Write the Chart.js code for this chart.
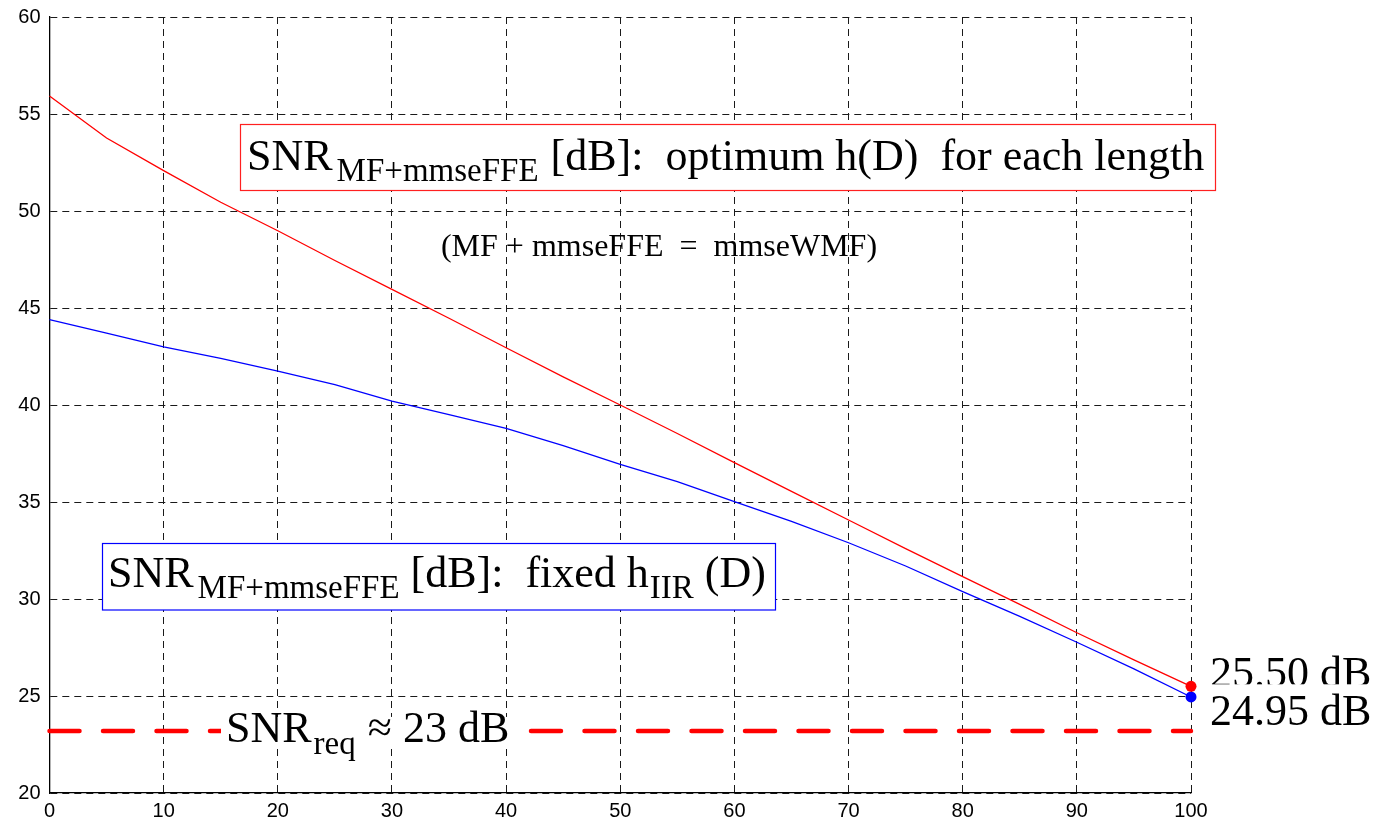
<!DOCTYPE html>
<html>
<head>
<meta charset="utf-8">
<script src="https://cdn.jsdelivr.net/npm/chart.js@4/dist/chart.umd.min.js"></script>
<style>
  html, body { margin: 0; padding: 0; background: #ffffff; }
  #wrap { width: 1376px; height: 822px; position: relative; }
</style>
</head>
<body>
<div id="wrap"><canvas id="snrChart"></canvas></div>
<script>
// Filter length (x) and SNR in dB for the two equalizer designs
const filterLengths = [0, 5, 10, 15, 20, 25, 30, 35, 40, 45, 50, 55, 60, 65, 70, 75, 80, 85, 90, 95, 100];
const snrOptimumH = [55.93, 53.76, 52.08, 50.45, 48.98, 47.45, 45.96, 44.47, 42.95, 41.45, 40.0, 38.53, 37.03, 35.55, 34.07, 32.6, 31.15, 29.72, 28.26, 26.86, 25.50];
const snrFixedHIIR = [44.4, 43.7, 43.0, 42.4, 41.75, 41.05, 40.2, 39.5, 38.8, 37.9, 36.94, 36.05, 35.02, 34.0, 32.9, 31.7, 30.38, 29.1, 27.77, 26.4, 24.95];
const snrRequired = 23.2;
const xTicks = [0, 10, 20, 30, 40, 50, 60, 70, 80, 90, 100];
const yTicks = [20, 25, 30, 35, 40, 45, 50, 55, 60];

const SERIF = '"Liberation Serif", "Times New Roman", serif';
const SANS = '"Liberation Sans", Arial, sans-serif';

const toPoints = (ys) => filterLengths.map((x, i) => ({ x: x, y: ys[i] }));
const lastIndex = filterLengths.length - 1;
const endMarker = (ctx) => (ctx.dataIndex === lastIndex ? 5.5 : 0);

// Draws a run of text pieces (normal / subscript) left to right
function drawRun(ctx, x, y, parts) {
  for (const p of parts) {
    ctx.font = p.font;
    ctx.fillText(p.text, x, y + (p.dy || 0));
    x += ctx.measureText(p.text).width + (p.gap || 0);
  }
  return x;
}

const annotations = {
  id: 'annotations',
  afterDatasetsDraw(chart) {
    const ctx = chart.ctx;
    const xs = chart.scales.x, ys = chart.scales.y;
    const big = '44px ' + SERIF;
    const sub = '33px ' + SERIF;
    const mid = '32px ' + SERIF;
    ctx.save();
    ctx.textBaseline = 'alphabetic';
    ctx.textAlign = 'left';

    // Optimum h(D) caption box
    ctx.fillStyle = '#ffffff';
    ctx.fillRect(240.5, 124.5, 975, 66);
    ctx.strokeStyle = '#ff2020';
    ctx.lineWidth = 1.2;
    ctx.strokeRect(240.5, 124.5, 975, 66);
    ctx.fillStyle = '#000000';
    drawRun(ctx, 247, 170, [
      { text: 'SNR', font: big, gap: 4 },
      { text: 'MF+mmseFFE', font: sub, dy: 11, gap: 12 },
      { text: '[dB]:  optimum h(D)  for each length', font: big }
    ]);

    // Equivalence note
    ctx.font = mid;
    ctx.textAlign = 'center';
    ctx.fillText('(MF + mmseFFE  =  mmseWMF)', 659, 256);
    ctx.textAlign = 'left';

    // Fixed h_IIR caption box
    ctx.fillStyle = '#ffffff';
    ctx.fillRect(102.5, 543.5, 673, 66.5);
    ctx.strokeStyle = '#0000ff';
    ctx.lineWidth = 1.2;
    ctx.strokeRect(102.5, 543.5, 673, 66.5);
    ctx.fillStyle = '#000000';
    drawRun(ctx, 108, 587, [
      { text: 'SNR', font: big, gap: 4 },
      { text: 'MF+mmseFFE', font: sub, dy: 11, gap: 11 },
      { text: '[dB]:  fixed h', font: big, gap: 1 },
      { text: 'IIR', font: sub, dy: 11, gap: 0 },
      { text: ' (D)', font: big }
    ]);

    // Required SNR label over the threshold line
    const yReq = ys.getPixelForValue(snrRequired);
    ctx.fillStyle = '#ffffff';
    ctx.fillRect(221, yReq - 14, 295, 30);
    ctx.fillStyle = '#000000';
    drawRun(ctx, 226, yReq + 11, [
      { text: 'SNR', font: big, gap: 2 },
      { text: 'req', font: sub, dy: 12, gap: 12 },
      { text: '\u2248 23 dB', font: big }
    ]);

    // End values at the longest filter
    const xEnd = xs.getPixelForValue(filterLengths[lastIndex]);
    const yRed = ys.getPixelForValue(snrOptimumH[lastIndex]);
    const yBlue = ys.getPixelForValue(snrFixedHIIR[lastIndex]);
    ctx.font = big;
    ctx.fillText(snrOptimumH[lastIndex].toFixed(2) + ' dB', xEnd + 19, yRed + 1);
    ctx.fillStyle = '#ffffff';
    ctx.fillRect(xEnd + 16, yRed - 2, 170, 48);
    ctx.fillStyle = '#000000';
    ctx.fillText(snrFixedHIIR[lastIndex].toFixed(2) + ' dB', xEnd + 19, yBlue + 28);
    ctx.restore();
  }
};

new Chart(document.getElementById('snrChart'), {
  type: 'line',
  data: {
    datasets: [
      {
        label: 'SNR optimum h(D)',
        data: toPoints(snrOptimumH),
        borderColor: '#ff0000',
        backgroundColor: '#ff0000',
        borderWidth: 1.3,
        pointRadius: endMarker,
        pointHoverRadius: endMarker,
        pointBorderWidth: 0,
        tension: 0,
        clip: false
      },
      {
        label: 'SNR fixed hIIR(D)',
        data: toPoints(snrFixedHIIR),
        borderColor: '#0000ff',
        backgroundColor: '#0000ff',
        borderWidth: 1.3,
        pointRadius: endMarker,
        pointHoverRadius: endMarker,
        pointBorderWidth: 0,
        tension: 0,
        clip: false
      },
      {
        label: 'SNR required',
        data: [{ x: filterLengths[0], y: snrRequired }, { x: filterLengths[lastIndex], y: snrRequired }],
        borderColor: '#ff0000',
        borderWidth: 4.5,
        borderDash: [30, 23.5],
        borderCapStyle: 'round',
        pointRadius: 0,
        tension: 0,
        clip: false
      }
    ]
  },
  options: {
    responsive: true,
    maintainAspectRatio: false,
    animation: false,
    events: [],
    layout: { padding: { top: 17, right: 185, left: 0, bottom: 0 } },
    plugins: {
      legend: { display: false },
      tooltip: { enabled: false },
      title: { display: false }
    },
    scales: {
      x: {
        type: 'linear',
        min: 0,
        max: 100,
        afterBuildTicks: (s) => { s.ticks = xTicks.map(v => ({ value: v })); },
        afterFit: (s) => { s.height = 29; s.paddingLeft = 0; s.paddingRight = 0; },
        grid: { color: '#1a1a1a', lineWidth: 1, drawTicks: false },
        border: { display: true, color: '#000000', width: 1.3, dash: [7, 5] },
        ticks: { color: '#000000', font: { family: SANS, size: 20 }, padding: 6, maxRotation: 0 }
      },
      y: {
        type: 'linear',
        min: 20,
        max: 60,
        afterBuildTicks: (s) => { s.ticks = yTicks.map(v => ({ value: v })); },
        afterFit: (s) => { s.width = 49.5; s.paddingTop = 0; s.paddingBottom = 0; },
        grid: { color: '#1a1a1a', lineWidth: 1, drawTicks: false },
        border: { display: true, color: '#000000', width: 1.3, dash: [7, 5] },
        ticks: { color: '#000000', font: { family: SANS, size: 20 }, padding: 9 }
      }
    }
  },
  plugins: [annotations]
});
</script>
</body>
</html>
